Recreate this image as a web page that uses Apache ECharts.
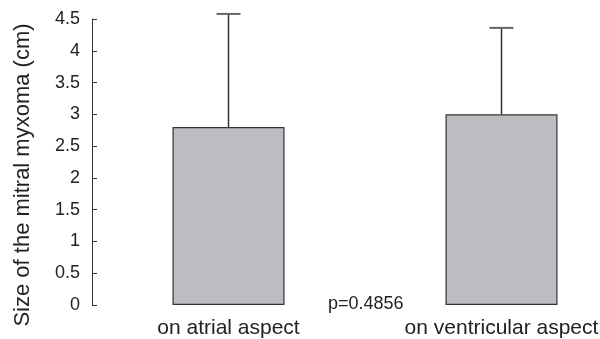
<!DOCTYPE html>
<html>
<head>
<meta charset="utf-8">
<script src="https://cdn.jsdelivr.net/npm/echarts@6/dist/echarts.min.js"></script>
<style>
  html, body { margin: 0; padding: 0; background: #fff; }
  #show_picture { width: 600px; height: 339px; }
</style>
</head>
<body>
<div id="show_picture"></div>
<script>
// data
const categories = ['on atrial aspect', 'on ventricular aspect'];
const means = [2.8, 3.0];
const upper = [4.58, 4.36];   // top of the error bars
const pText = 'p=0.4856';

let myChart = echarts.init(document.getElementById('show_picture'));

let errData = categories.map((c, i) => [i, means[i], upper[i]]);

let option = {
    animation: false,
    textStyle: { fontFamily: 'Liberation Sans, Arial, sans-serif' },
    grid: { left: 92, right: -38, top: 19, bottom: 34, outerBoundsMode: 'none', containLabel: false },
    xAxis: {
        type: 'category',
        data: categories,
        axisLine: { show: false },
        axisTick: { show: false },
        axisLabel: { interval: 0, margin: 13, fontSize: 21, color: '#222' }
    },
    yAxis: {
        type: 'value',
        min: 0, max: 4.5, interval: 0.5,
        splitLine: { show: false },
        axisLine: { show: true, lineStyle: { color: '#333', width: 1 } },
        axisTick: { show: true, inside: true, length: 5, lineStyle: { color: '#333' } },
        axisLabel: { margin: 12, fontSize: 18, color: '#222' }
    },
    graphic: [
        {
            type: 'text', x: 23, y: 175, rotation: Math.PI / 2,
            style: {
                text: 'Size of the mitral myxoma (cm)',
                fontSize: 22, fill: '#222', align: 'center', verticalAlign: 'middle',
                fontFamily: 'Liberation Sans, Arial, sans-serif'
            }
        },
        {
            type: 'text', x: 328, y: 304,
            style: {
                text: pText, fontSize: 18, fill: '#222', verticalAlign: 'middle',
                fontFamily: 'Liberation Sans, Arial, sans-serif'
            }
        }
    ],
    series: [
        {
            type: 'bar',
            data: means,
            barWidth: 112,
            itemStyle: { color: '#bcbdc0', borderColor: '#333', borderWidth: 1.2 }
        },
        {
            type: 'custom',
            data: errData,
            z: 1,
            renderItem: function (params, api) {
                let top = api.coord([api.value(0), api.value(2)]);
                let base = api.coord([api.value(0), api.value(1)]);
                let hw = 12;
                return {
                    type: 'group',
                    children: [
                        { type: 'line', shape: { x1: top[0], y1: top[1], x2: base[0], y2: base[1] },
                          style: { stroke: '#333', lineWidth: 1.5 } },
                        { type: 'line', shape: { x1: top[0] - hw, y1: top[1], x2: top[0] + hw, y2: top[1] },
                          style: { stroke: '#666', lineWidth: 2 } }
                    ]
                };
            }
        }
    ]
};

option && myChart.setOption(option);
</script>
</body>
</html>
